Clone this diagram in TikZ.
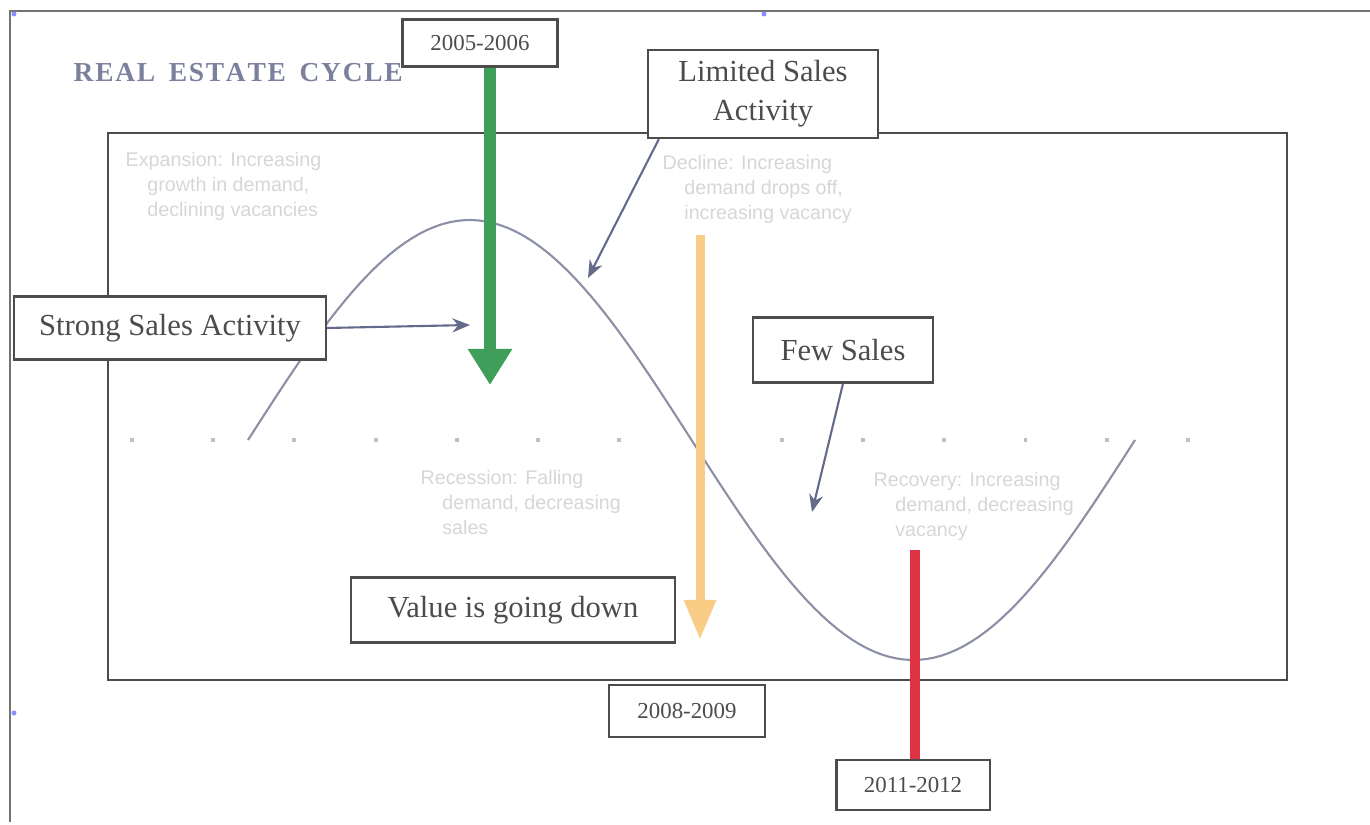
\documentclass[tikz,border=0pt]{standalone}
\usepackage{fontspec}
\setmainfont{Liberation Serif}
\setsansfont{Liberation Sans}
\usepackage{tikz}
\usetikzlibrary{arrows.meta}
\definecolor{cyclegray}{HTML}{8C90A6}
\definecolor{linkblue}{HTML}{646A8C}
\definecolor{faint}{HTML}{D6D6D6}
\definecolor{mygreen}{HTML}{3F9E5A}
\definecolor{myorange}{HTML}{F9CD86}
\definecolor{myred}{HTML}{DE3345}
\tikzstyle{labelbox} = [rectangle, draw=black!70, semithick, fill=white, text=black!70,
font=\fontsize{8.7}{11}\selectfont, align=center, inner sep=0pt]
\tikzstyle{yearbox} = [labelbox, font=\fontsize{6.5}{8}\selectfont]
\tikzstyle{phasetext} = [anchor=north west, align=left, text=faint,
font=\sffamily\fontsize{5.6}{7}\selectfont, inner sep=0pt]
\tikzstyle{link} = [linkblue, semithick, -{Stealth[length=5pt,width=4pt]}]

\begin{document}
\begin{tikzpicture}[x=0.01cm, y=-0.01cm]
  \useasboundingbox (0,0) rectangle (1370,825);
  % outer frame and inner chart
  \draw[black!55, thin] (10,822) -- (10,11) -- (1370,11);
  \draw[black!70, thin] (108,133) rectangle (1287,680);
  \foreach \p in {(14,14),(764,14),(14,713)}
    \fill[blue!45] \p circle (2.5);
  \node[anchor=west, inner sep=0pt, text=linkblue!85, font=\bfseries\fontsize{7.8}{10}\selectfont]
    (title) at (73,73) {R\kern.5pt E\kern.5pt A\kern.5pt L\ \ E\kern.5pt S\kern.5pt T\kern.5pt A\kern.5pt T\kern.5pt E\ \ C\kern.5pt Y\kern.5pt C\kern.5pt L\kern.5pt E};
  % midline and cycle curve
  \draw[black!25, line width=1.1pt, dash pattern=on 1.1pt off 22pt]
    (130,440) -- (1260,440);
  \draw[cyclegray, semithick] plot[domain=248:1135, samples=120]
    (\x, {440 - 220*sin((\x-248)/887*360)});
  % phases
  \node[phasetext] (expansion) at (125,152) {Expansion: Increasing\\
    \hspace{1.1em}growth in demand,\\ \hspace{1.1em}declining vacancies};
  \node[phasetext] (decline) at (662,155) {Decline: Increasing\\
    \hspace{1.1em}demand drops off,\\ \hspace{1.1em}increasing vacancy};
  \node[phasetext] (recession) at (420,470) {Recession: Falling\\
    \hspace{1.1em}demand, decreasing\\ \hspace{1.1em}sales};
  \node[phasetext] (recovery) at (873,472) {Recovery: Increasing\\
    \hspace{1.1em}demand, decreasing\\ \hspace{1.1em}vacancy};
  % coloured bars
  \coordinate (greentip) at (490,385);
  \coordinate (orangetop) at (700,235);
  \coordinate (orangetip) at (700,640);
  \coordinate (redtop) at (915,550);
  \node[yearbox, minimum width=1.55cm, minimum height=0.47cm] (y0506) at (480,43) {2005-2006};
  \node[yearbox, minimum width=1.56cm, minimum height=0.52cm] (y0809) at (687,711) {2008-2009};
  \node[yearbox, minimum width=1.53cm, minimum height=0.50cm] (y1112) at (913,785) {2011-2012};
  \draw[mygreen, line width=0.12cm, -{Triangle[length=0.36cm,width=0.42cm]}]
    (y0506.south -| greentip) -- (greentip);
  \draw[myorange, line width=0.09cm, -{Triangle[length=0.4cm,width=0.3cm]}]
    (orangetop) -- (orangetip);
  \draw[myred, line width=0.1cm] (redtop) -- (y1112.north -| redtop);
  % sales boxes
  \node[labelbox, minimum width=3.12cm, minimum height=0.63cm] (strong) at (170,328) {Strong Sales Activity};
  \node[labelbox, minimum width=2.30cm, minimum height=0.88cm] (limited) at (763,94) {Limited Sales\\Activity};
  \node[labelbox, minimum width=1.80cm, minimum height=0.65cm] (few) at (843,350) {Few Sales};
  \node[labelbox, minimum width=3.23cm, minimum height=0.65cm] (value) at (513,610) {Value is going down};
  \coordinate (strongtip) at (470,325);
  \coordinate (limitedtip) at (588,278);
  \coordinate (fewtip) at (812,512);
  \draw[link] (strong.east) -- (strongtip);
  \draw[link] (limited.south west) ++(12,0) -- (limitedtip);
  \draw[link] (few.south) -- (fewtip);
\end{tikzpicture}
\end{document}
